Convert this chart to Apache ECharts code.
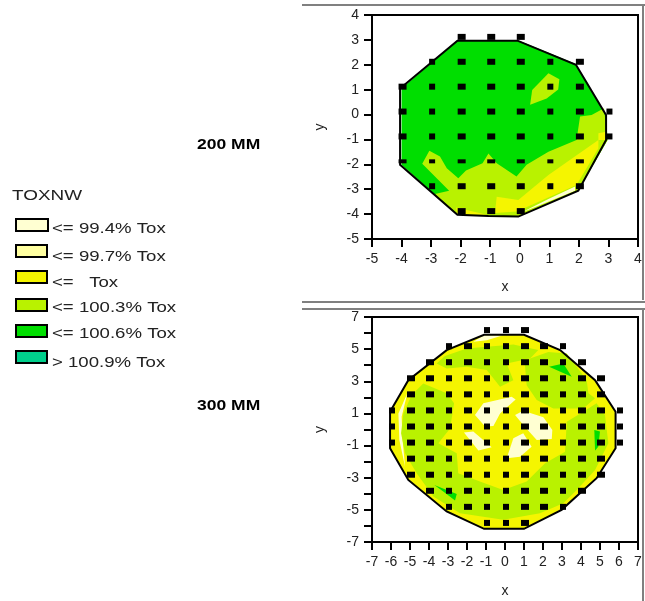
<!DOCTYPE html>
<html><head><meta charset="utf-8">
<style>html,body{margin:0;padding:0;background:#fff}#c{width:645px;height:601px}</style>
<script src="https://cdn.jsdelivr.net/npm/echarts@6/dist/echarts.min.js"></script>
</head><body><div id="c"></div>
<script>
// ---------- legend ----------
const legendTitle = 'TOXNW';
const legendLabels = ['<= 99.4% Tox','<= 99.7% Tox','<=   Tox','<= 100.3% Tox','<= 100.6% Tox','> 100.9% Tox'];
const waferLabels = ['200 MM','300 MM'];
// ---------- measurement sites: [y, [x...]] ----------
const sites200 = [
 [3,[-2,-1,0]],
 [2,[-3,-2,-1,0,1,2]],
 [1,[-4,-3,-2,-1,0,1,2]],
 [0,[-4,-3,-2,-1,0,1,2,3]],
 [-1,[-4,-3,-2,-1,0,1,2,3]],
 [-2,[-4,-3,-2,-1,0,1,2]],
 [-3,[-3,-2,-1,0,1,2]],
 [-4,[-2,-1,0]]
];
const sites300 = [
 [6,[-1,0,1]],
 [5,[-3,-2,-1,0,1,2,3]],
 [4,[-4,-3,-2,-1,0,1,2,3,4]],
 [3,[-5,-4,-3,-2,-1,0,1,2,3,4,5]],
 [2,[-5,-4,-3,-2,-1,0,1,2,3,4,5]],
 [1,[-6,-5,-4,-3,-2,-1,0,1,2,3,4,5,6]],
 [0,[-6,-5,-4,-3,-2,-1,0,1,2,3,4,5,6]],
 [-1,[-6,-5,-4,-3,-2,-1,0,1,2,3,4,5,6]],
 [-2,[-5,-4,-3,-2,-1,0,1,2,3,4,5]],
 [-3,[-5,-4,-3,-2,-1,0,1,2,3,4,5]],
 [-4,[-4,-3,-2,-1,0,1,2,3,4]],
 [-5,[-3,-2,-1,0,1,2,3]],
 [-6,[-1,0,1]]
];
// ---------- 200 mm contours (data units) ----------
const edge200 = [[-4.05,1.05],[-2.11,2.97],[-0.08,2.97],[1.90,2.0],[2.92,-0.02],[2.92,-1.02],[1.98,-3.06],[-0.05,-4.10],[-1.06,-4.08],[-2.11,-4.03],[-4.05,-2.02]];
const fill200 = [[-4.0,1.05],[-2.11,2.97],[-0.08,3.0],[1.90,2.03],[2.92,-0.02],[2.97,-1.02],[1.98,-3.06],[-0.05,-4.10],[-1.06,-4.08],[-2.11,-4.03],[-4.0,-2.02]];
const limeA200 = [[0.97,1.66],[1.34,1.42],[1.30,1.01],[0.91,0.65],[0.35,0.39],[0.42,0.99]];
const limeB200 = [[-3.06,-1.45],[-2.70,-1.69],[-2.47,-2.16],[-2.08,-2.56],[-1.82,-2.25],[-1.26,-1.96],[-1.06,-1.56],[-0.78,-1.96],[-0.11,-2.49],[0.23,-2.02],[0.97,-1.49],[1.92,-1.02],[2.04,-0.08],[2.43,-0.02],[2.85,0.25],[2.97,-1.02],[1.98,-3.06],[-0.05,-4.10],[-2.11,-4.03],[-2.87,-3.19],[-2.39,-3.06],[-3.30,-1.98]];
const yellowA200 = [[-0.78,-3.30],[-0.05,-3.43],[0.97,-2.43],[2.66,-1.02],[2.66,-1.35],[1.92,-2.83],[1.02,-3.30],[-0.10,-3.90],[-0.84,-3.96]];
const yellowB200 = [[2.66,-0.75],[2.92,-0.69],[2.92,-1.02],[2.66,-1.02]];
const yellowC200 = [[-2.16,-3.73],[-1.80,-3.83],[-1.12,-4.03],[-2.11,-4.03]];
const creamA200 = [[0.97,-3.39],[1.87,-2.89],[1.87,-3.06],[0.01,-3.97]];
// ---------- 300 mm contours (data units) ----------
const edge300 = [[-1.1,5.89],[1,5.89],[2.9,4.94],[4.74,3.07],[5.82,1.1],[5.82,-1.17],[4.82,-3.03],[2.98,-5.0],[1,-6.18],[-1.1,-6.18],[-3.07,-5.1],[-5.09,-3.14],[-6.05,-1.17],[-6.05,1.1],[-5.09,3.07],[-3.07,4.94]];
const limeA300 = [[-4.30,2.87],[-4.91,2.14],[-5.35,1.00],[-5.47,-0.24],[-5.26,-1.48],[-4.65,-2.72],[-3.77,-4.17],[-2.37,-5.21],[-0.09,-5.62],[1.84,-5.21],[3.07,-4.59],[3.77,-3.76],[4.74,-2.52],[5.44,-0.86],[5.26,0.90],[4.82,1.63],[4.12,1.11],[3.25,0.49],[3.16,-1.38],[2.11,-2.10],[1.14,-3.24],[-0.09,-3.76],[-1.32,-3.24],[-2.46,-2.72],[-2.54,-1.48],[-3.51,-0.86],[-2.89,0.07],[-2.68,1.63],[-3.07,2.25]];
const limeB300 = [[-3.60,4.11],[-3.16,4.57],[-2.02,5.04],[0.44,5.29],[1.75,4.94],[1.32,4.42],[0.09,4.11],[0.44,3.07],[-0.26,2.66],[-0.96,3.70],[-2.02,3.90],[-3.07,3.80]];
const limeC300 = [[1.32,4.42],[2.28,4.83],[3.25,4.73],[4.30,3.07],[4.39,2.25],[4.74,1.94],[4.12,1.31],[2.54,1.31],[1.67,1.83],[1.14,2.76],[1.05,4.01]];
const creamA300 = [[-1.58,0.90],[-1.14,1.63],[0.35,2.04],[0.56,1.87],[-0.26,1.00],[-0.61,0.22],[-1.05,0.18]];
const creamB300 = [[0.53,0.90],[0.96,1.17],[2.02,0.76],[2.49,-0.03],[2.46,-0.59],[1.67,-0.65],[0.96,0.28]];
const creamC300 = [[-2.16,-0.18],[-1.67,-0.13],[-0.70,-1.11],[-1.40,-1.31]];
const creamD300 = [[0.09,-1.79],[0.44,-0.55],[0.96,-0.24],[1.40,-1.07],[0.79,-1.69]];
const creamE300 = [[-5.14,2.25],[-5.61,1.00],[-5.56,-0.65],[-5.26,-2.31],[-5.39,-0.65],[-5.44,0.80]];
const creamF300 = [[-1.67,5.46],[-1.11,5.87],[-0.09,5.87],[-0.96,5.56]];
const greenA300 = [[2.32,3.90],[3.07,4.11],[3.51,3.28]];
const greenB300 = [[4.70,-0.03],[5.00,-0.13],[4.91,-1.07],[4.74,-1.31]];
const greenC300 = [[-3.72,-3.45],[-2.54,-4.01],[-2.63,-4.42],[-3.25,-3.86]];

// ---------- styles ----------
const C = {cream:'#FFFFD2',pale:'#FFFFA0',yellow:'#F5F500',lime:'#B9F200',green:'#00DE00',teal:'#00D08C'};
const legendColors = [C.cream,C.pale,C.yellow,C.lime,C.green,C.teal];
const FONT = '"Liberation Sans", Arial, sans-serif';
const layers200 = [[fill200,C.green],[limeA200,C.lime],[limeB200,C.lime],[yellowA200,C.yellow],[yellowB200,C.yellow],[yellowC200,C.yellow],[creamA200,C.cream]];
const layers300 = [[edge300,C.yellow],[creamE300,C.cream],[creamF300,C.cream],[limeA300,C.lime],[limeB300,C.lime],[limeC300,C.lime],[creamA300,C.cream],[creamB300,C.cream],[creamC300,C.cream],[creamD300,C.cream],[greenA300,C.green],[greenB300,C.green],[greenC300,C.green]];

function polySeries(layers, edge, idx){
  const all = layers.map(l=>({pts:l[0],fill:l[1]})).concat([{pts:edge,fill:'none',stroke:'#000'}]);
  return {type:'custom',coordinateSystem:'cartesian2d',xAxisIndex:idx,yAxisIndex:idx,silent:true,clip:false,z:2,
    data:all.map(l=>l.pts[0]),
    renderItem:(p,api)=>{const l=all[p.dataIndex];
      return {type:'polygon',shape:{points:l.pts.map(q=>api.coord(q))},
        style:{fill:l.fill,stroke:l.stroke||null,lineWidth:l.stroke?2:0,lineJoin:'miter'}};}
  };
}
const wide200=[-4,-2,-1,0,2], wide300=[-5,-4,-2,1,2,4,5];
function siteSeries(rows, idx, wide){
  const d=[]; rows.forEach(r=>r[1].forEach(x=>d.push([x,r[0]])));
  return {type:'scatter',xAxisIndex:idx,yAxisIndex:idx,z:5,silent:true,symbol:'rect',
    symbolSize:v=>[wide.includes(v[0])?8:6,(idx===0&&v[1]===-2)?4:6],symbolOffset:[1,-3],
    itemStyle:{color:'#000',opacity:1},data:d};
}
function xAxis(idx,min,max,gap){return {gridIndex:idx,type:'value',min,max,interval:1,name:'x',nameLocation:'middle',nameGap:gap,
  nameTextStyle:{color:'#222',fontFamily:FONT,fontSize:14},
  axisLine:{onZero:false,lineStyle:{color:'#000',width:2}},axisTick:{length:8,lineStyle:{color:'#000',width:2}},
  axisLabel:{color:'#222',fontFamily:FONT,fontSize:14,margin:13,showMinLabel:true,showMaxLabel:true,hideOverlap:false},splitLine:{show:false}};}
function yAxis(idx,min,max,fmt){return {gridIndex:idx,type:'value',min,max,interval:1,name:'y',nameLocation:'middle',nameGap:45,
  nameTextStyle:{color:'#222',fontFamily:FONT,fontSize:14},
  axisLine:{onZero:false,lineStyle:{color:'#000',width:2}},axisTick:{length:8,lineStyle:{color:'#000',width:2}},
  axisLabel:{color:'#222',fontFamily:FONT,fontSize:14,margin:13,showMinLabel:true,showMaxLabel:true,hideOverlap:false,formatter:fmt},splitLine:{show:false}};}

const g=[];
[[302,5,645,5],[643,5,643,300],[302,302,645,302],[302,309,645,309],[643,309,643,601]].forEach(s=>
  g.push({type:'line',shape:{x1:s[0],y1:s[1],x2:s[2],y2:s[3]},style:{stroke:'#808080',lineWidth:2}}));
g.push({type:'text',x:12,y:188,scaleX:1.26,style:{text:legendTitle,fill:'#222',font:'15px '+FONT}});
const swatchY=[219,245,271,299,325,351], textY=[221,249,275,300,326,355];
legendLabels.forEach((t,i)=>{
  g.push({type:'rect',shape:{x:16,y:swatchY[i],width:i===0?32:31,height:12},style:{fill:legendColors[i],stroke:'#000',lineWidth:2}});
  g.push({type:'text',x:52,y:textY[i],scaleX:1.24,style:{text:t,fill:'#222',font:'15px '+FONT}});
});
g.push({type:'text',x:197,y:138,scaleX:1.25,style:{text:waferLabels[0],fill:'#000',font:'bold 14px '+FONT}});
g.push({type:'text',x:197,y:399,scaleX:1.25,style:{text:waferLabels[1],fill:'#000',font:'bold 14px '+FONT}});

const chart=echarts.init(document.getElementById('c'),null,{renderer:'canvas'});
chart.setOption({animation:false,backgroundColor:'#fff',
  grid:[{left:372,top:15,width:266,height:224,show:true,borderColor:'#000',borderWidth:2,backgroundColor:'transparent'},
        {left:372,top:317,width:266,height:225,show:true,borderColor:'#000',borderWidth:2,backgroundColor:'transparent'}],
  xAxis:[xAxis(0,-5,4,41),xAxis(1,-7,7,42)],
  yAxis:[yAxis(0,-5,4),yAxis(1,-7,7,v=>Math.abs(v)%2===1?String(v):'')],
  series:[polySeries(layers200,edge200,0),siteSeries(sites200,0,wide200),polySeries(layers300,edge300,1),siteSeries(sites300,1,wide300)],
  graphic:g});
</script></body></html>
